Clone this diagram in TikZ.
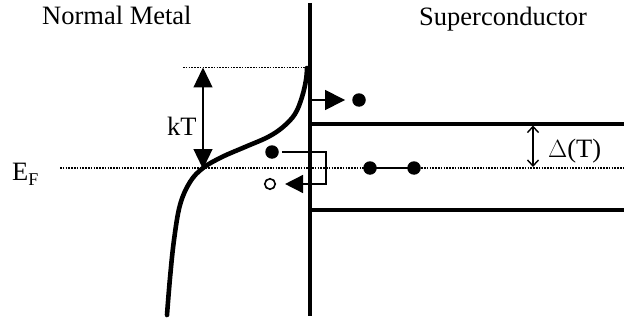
\documentclass[tikz,border=0pt]{standalone}
\usepackage{fontspec}
\setmainfont{Liberation Serif}
\usetikzlibrary{arrows.meta}
\begin{document}
\begin{tikzpicture}[x=1pt,y=-1pt,
  lbl/.style={font=\fontsize{26.5}{30}\selectfont, inner sep=0pt},
  dotline/.style={line width=2pt, dash pattern=on 1.6pt off 1.2pt},
  bigtip/.style={-{Triangle[length=20pt,width=19pt]}, line width=1.3pt},
  midtip/.style={-{Triangle[length=20pt,width=20pt]}, line width=1.5pt},
  smalltip/.style={-{Triangle[length=18pt,width=18pt]}, line width=1.5pt},
  fdot/.style={circle, fill=black, inner sep=0pt, minimum size=13.5pt},
  odot/.style={circle, draw=black, line width=1.6pt, inner sep=0pt, minimum size=10.5pt},
  wall/.style={line width=4.5pt},
  gapline/.style={line width=3.3pt}]
\useasboundingbox (0,0) rectangle (624,321);

% labels
\node[lbl, anchor=base west] (nm) at (42,25) {Normal Metal};
\node[lbl, anchor=base west] (sc) at (419,26) {Superconductor};
\node[lbl, anchor=base west] (ef) at (12,180) {E\raisebox{-5pt}{\fontsize{18}{18}\selectfont F}};
\node[lbl, anchor=base west] (kt) at (167,135) {kT};
\node[lbl, anchor=base west] (dt) at (548,157) {$\Delta$(T)};

% coordinates
\coordinate (wtop) at (310,3);
\coordinate (wbot) at (310,316);
\coordinate (efl) at (60,168);
\coordinate (efr) at (624,168);
\coordinate (ktl) at (183,67.5);
\coordinate (ktr) at (305,67.5);
\coordinate (gu1) at (312,124);
\coordinate (gu2) at (624,124);
\coordinate (gl1) at (312,210);
\coordinate (gl2) at (624,210);

% dotted lines
\draw[dotline] (efl) -- (efr);
\draw[dotline, line width=1.6pt] (ktl) -- (ktr);

% wall and gap edges
\draw[wall] (wtop) -- (wbot);
\draw[gapline] (gu1) -- (gu2);
\draw[gapline] (gl1) -- (gl2);

% Fermi curve
\draw[line width=4.6pt, line cap=round] plot[smooth, tension=0.6] coordinates {
  (167,315) (170,278) (174,240) (180,205) (190,182) (203,168)
  (222,157) (245,147) (268,137) (283,127) (295,114) (302,97) (306,80) (307,68)};

% kT arrow
\coordinate (ka) at (203,118);
\coordinate (kb) at (203,67.5);
\coordinate (kc) at (203,169);
\draw[bigtip] (ka) -- (kb);
\draw[bigtip] (ka) -- (kc);

% Delta arrow
\coordinate (da) at (533,125.5);
\coordinate (db) at (533,167);
\draw[{Straight Barb[length=6pt,width=11pt]}-{Straight Barb[length=6pt,width=11pt]}, line width=1.4pt] (da) -- (db);

% electron escaping above gap
\node[fdot] (e1) at (359,100) {};
\coordinate (a1) at (312,100);
\draw[midtip] (a1) -- ([xshift=-7pt]e1.west);

% Andreev reflection
\node[fdot] (e2) at (272,152) {};
\node[odot] (h1) at (270,184) {};
\coordinate (r1) at (326,152);
\coordinate (r2) at (326,184);
\draw[line width=1.5pt] ([xshift=3pt]e2.east) -- (r1) -- (r2);
\draw[smalltip] ([xshift=0.75pt]r2) -- ([xshift=9pt]h1.east);

% Cooper pair
\node[fdot] (c1) at (370,168) {};
\node[fdot] (c2) at (414,168) {};
\draw[line width=2.8pt] (c1) -- (c2);
\end{tikzpicture}
\end{document}
